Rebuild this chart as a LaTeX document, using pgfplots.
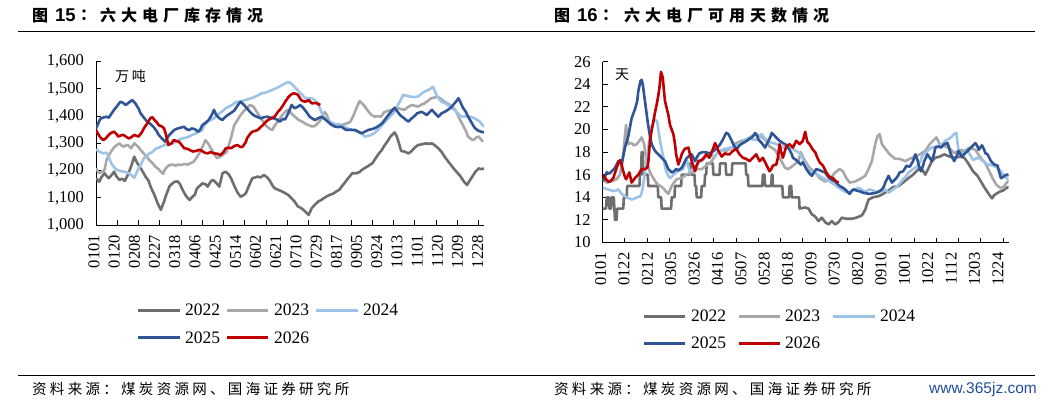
\documentclass[border=0pt]{standalone}
\usepackage{fontspec}
\setmainfont{Liberation Serif}
\newfontfamily\cjk{Noto Sans CJK SC}
\newfontfamily\sansf{Liberation Sans}
\usepackage{pgfplots}
\pgfplotsset{compat=1.18}
\definecolor{c22}{RGB}{110,110,110}
\definecolor{c23}{RGB}{168,168,168}
\definecolor{c24}{RGB}{157,195,230}
\definecolor{c25}{RGB}{47,85,151}
\definecolor{c26}{RGB}{192,0,0}
\definecolor{wm}{RGB}{31,78,156}
\makeatletter
\def\LS#1#2{\def\LS@sp{\hspace{#1}}\LS@a#2\@nil}
\def\LS@a#1{\ifx\@nil#1\else#1\LS@sp\expandafter\LS@a\fi}
\makeatother
\pgfplotsset{chart/.style={
  scale only axis, axis x line*=bottom, axis y line*=left,
  axis line style={black, line width=1bp},
  tick align=inside, major tick length=5bp,
  tick style={black, line width=1bp},
  ticklabel style={font=\fontsize{16.5bp}{18bp}\selectfont},
  /pgf/number format/assume math mode=true,
  /pgf/number format/1000 sep={,},
  yticklabel style={xshift=-8.5bp},
  xticklabels={},
  extra x tick style={major tick length=0pt,
     xticklabel style={xshift=-2bp, yshift=-6.5bp, rotate=90, anchor=east}},
  no markers,
  every axis plot/.append style={line width=2.6bp, line join=round},
  xmin=0, xmax=365,
}}
\begin{document}
\begin{tikzpicture}
\useasboundingbox (0,0) rectangle (1054bp,-409bp);
% rules
\draw[line width=1bp] (18bp,-31.7bp) -- (1035bp,-31.7bp);
\draw[line width=1bp] (18bp,-375.5bp) -- (1035bp,-375.5bp);
% titles
\node[anchor=west, inner sep=0] at (32bp,-15.5bp) {\cjk\bfseries\fontsize{16bp}{16bp}\selectfont 图};
\node[anchor=west, inner sep=0] at (55bp,-15.5bp) {\sansf\bfseries\fontsize{18.5bp}{18.5bp}\selectfont 15};
\node[anchor=west, inner sep=0] at (80bp,-15.5bp) {\cjk\bfseries\fontsize{16bp}{16bp}\selectfont ：};
\node[anchor=west, inner sep=0] at (100bp,-15.5bp) {\cjk\bfseries\fontsize{16bp}{16bp}\selectfont\LS{5bp}{六大电厂库存情况}};
\node[anchor=west, inner sep=0] at (554bp,-15.5bp) {\cjk\bfseries\fontsize{16bp}{16bp}\selectfont 图};
\node[anchor=west, inner sep=0] at (577bp,-15.5bp) {\sansf\bfseries\fontsize{18.5bp}{18.5bp}\selectfont 16};
\node[anchor=west, inner sep=0] at (602bp,-15.5bp) {\cjk\bfseries\fontsize{16bp}{16bp}\selectfont ：};
\node[anchor=west, inner sep=0] at (624bp,-15.5bp) {\cjk\bfseries\fontsize{16bp}{16bp}\selectfont\LS{5bp}{六大电厂可用天数情况}};
% sources
\node[anchor=west, inner sep=0] at (32bp,-389bp) {\cjk\fontsize{14.5bp}{14.5bp}\selectfont\LS{3.3bp}{资料来源：煤炭资源网、国海证券研究所}};
\node[anchor=west, inner sep=0] at (554bp,-389bp) {\cjk\fontsize{14.5bp}{14.5bp}\selectfont\LS{3.3bp}{资料来源：煤炭资源网、国海证券研究所}};
\node[anchor=west, inner sep=0, text=wm] at (929bp,-389bp) {\sansf\fontsize{15.5bp}{16bp}\selectfont www.365jz.com};

% ---------------- left chart ----------------
\begin{axis}[chart, at={(96bp,-225bp)}, anchor=south west,
  width=388bp, height=163.3bp,
  ymin=1000, ymax=1600, ytick={1000,1100,...,1600},
  xtick={0,20,...,360},
  extra x ticks={0,19,38,57,76,95,114,133,152,171,190,209,228,247,266,285,304,323,342,361},
  extra x tick labels={0101,0120,0208,0227,0318,0406,0425,0514,0602,0621,0710,0729,0817,0905,0924,1013,1101,1120,1209,1228},
]
\addplot[c22] coordinates {(0,1172)(3,1159)(5,1175)(8,1190)(10,1180)(12,1172)(15,1185)(17,1196)(19,1180)(22,1166)(25,1170)(27,1162)(30,1184)(33,1215)(36,1251)(38,1233)(41,1215)(44,1196)(47,1175)(49,1166)(52,1135)(55,1110)(58,1080)(61,1056)(64,1086)(66,1110)(69,1141)(71,1150)(74,1159)(77,1160)(79,1150)(82,1125)(85,1105)(88,1092)(91,1105)(93,1111)(95,1135)(98,1145)(100,1153)(103,1150)(105,1141)(108,1160)(110,1166)(113,1155)(116,1141)(119,1190)(122,1196)(125,1185)(127,1172)(130,1145)(133,1120)(136,1104)(139,1110)(141,1117)(144,1145)(147,1172)(150,1175)(152,1178)(155,1175)(158,1184)(161,1175)(163,1166)(166,1145)(168,1135)(171,1130)(174,1125)(178,1117)(181,1110)(184,1098)(187,1085)(190,1068)(193,1062)(195,1056)(198,1045)(200,1037)(203,1062)(206,1075)(209,1086)(212,1092)(214,1098)(217,1105)(220,1111)(223,1115)(226,1123)(229,1130)(231,1141)(234,1155)(236,1166)(239,1180)(241,1190)(245,1190)(248,1195)(250,1202)(253,1210)(255,1214)(258,1222)(260,1227)(263,1245)(266,1262)(269,1276)(271,1290)(274,1306)(277,1325)(279,1333)(281,1340)(283,1325)(285,1300)(287,1272)(290,1270)(294,1263)(297,1272)(300,1285)(303,1294)(306,1296)(310,1300)(313,1298)(316,1300)(319,1292)(322,1282)(325,1269)(328,1251)(331,1235)(334,1220)(337,1205)(340,1192)(343,1178)(346,1160)(349,1147)(351,1160)(354,1178)(357,1196)(360,1208)(363,1205)(365,1208)};
\addplot[c23] coordinates {(0,1208)(3,1190)(5,1195)(8,1202)(10,1240)(12,1255)(14,1269)(17,1285)(19,1292)(22,1300)(24,1292)(26,1288)(28,1292)(30,1294)(33,1282)(36,1300)(39,1290)(42,1276)(45,1262)(48,1250)(50,1239)(53,1228)(56,1214)(59,1205)(61,1196)(63,1188)(65,1205)(67,1214)(69,1220)(72,1222)(75,1218)(77,1222)(80,1220)(83,1224)(86,1222)(89,1227)(92,1233)(95,1250)(98,1269)(101,1295)(103,1312)(106,1296)(108,1282)(111,1262)(114,1245)(117,1252)(120,1260)(123,1269)(125,1295)(127,1320)(130,1367)(133,1385)(136,1404)(139,1418)(142,1430)(145,1441)(148,1435)(150,1423)(153,1405)(155,1392)(158,1375)(161,1361)(164,1352)(166,1349)(168,1365)(171,1380)(174,1398)(177,1412)(180,1422)(182,1418)(185,1405)(188,1395)(191,1385)(194,1380)(197,1372)(200,1367)(203,1362)(206,1364)(209,1375)(212,1390)(215,1415)(217,1405)(219,1385)(221,1368)(224,1367)(227,1370)(231,1367)(235,1372)(239,1378)(242,1400)(245,1430)(248,1455)(250,1448)(253,1435)(256,1418)(259,1405)(262,1398)(265,1400)(268,1398)(271,1414)(275,1420)(278,1423)(281,1426)(284,1429)(287,1426)(290,1423)(293,1432)(297,1441)(300,1438)(303,1435)(306,1442)(309,1447)(312,1455)(315,1465)(318,1468)(321,1472)(324,1465)(327,1455)(330,1448)(333,1441)(336,1430)(338,1423)(341,1398)(344,1375)(346,1361)(348,1345)(350,1325)(353,1315)(355,1312)(358,1322)(360,1325)(362,1315)(364,1306)};
\addplot[c24] coordinates {(0,1278)(2,1272)(4,1268)(7,1263)(10,1266)(13,1240)(15,1222)(18,1208)(20,1202)(23,1198)(26,1196)(29,1193)(31,1190)(34,1180)(36,1174)(38,1190)(40,1208)(43,1228)(45,1245)(48,1255)(50,1263)(53,1268)(56,1280)(59,1284)(62,1290)(65,1294)(68,1300)(71,1298)(74,1304)(77,1310)(81,1318)(84,1320)(87,1324)(90,1330)(94,1337)(97,1343)(100,1349)(102,1368)(105,1380)(108,1386)(111,1392)(113,1400)(116,1410)(119,1418)(122,1429)(125,1435)(128,1441)(131,1450)(134,1453)(137,1455)(140,1459)(143,1462)(146,1466)(149,1470)(152,1476)(156,1484)(159,1486)(162,1490)(165,1495)(168,1500)(171,1505)(174,1512)(177,1518)(180,1525)(182,1524)(185,1515)(188,1502)(191,1490)(194,1478)(197,1466)(200,1464)(203,1466)(206,1458)(208,1450)(210,1435)(212,1415)(214,1398)(217,1388)(220,1380)(224,1372)(228,1367)(231,1365)(234,1361)(237,1355)(240,1349)(243,1348)(247,1343)(250,1335)(253,1325)(256,1328)(259,1331)(262,1338)(265,1349)(268,1362)(272,1380)(275,1392)(278,1405)(280,1412)(282,1425)(284,1441)(287,1462)(289,1478)(292,1475)(295,1472)(299,1470)(303,1472)(306,1482)(309,1490)(312,1495)(315,1502)(317,1508)(319,1490)(321,1472)(323,1462)(325,1453)(328,1448)(331,1441)(334,1432)(337,1423)(340,1412)(343,1400)(346,1398)(349,1400)(352,1398)(355,1394)(358,1388)(361,1380)(363,1370)(365,1361)};
\addplot[c25] coordinates {(0,1355)(2,1372)(4,1390)(7,1395)(10,1398)(12,1394)(15,1412)(17,1423)(20,1438)(23,1453)(25,1450)(28,1441)(31,1450)(34,1459)(37,1447)(40,1428)(42,1410)(45,1395)(48,1380)(51,1372)(54,1361)(57,1345)(59,1331)(62,1318)(65,1306)(67,1320)(69,1331)(72,1343)(74,1350)(77,1355)(80,1358)(83,1361)(85,1352)(88,1349)(90,1355)(93,1352)(96,1343)(98,1350)(100,1367)(103,1375)(106,1386)(109,1405)(111,1423)(113,1405)(116,1392)(119,1386)(121,1395)(124,1404)(127,1412)(130,1420)(133,1438)(136,1453)(139,1442)(142,1429)(145,1415)(148,1404)(151,1398)(155,1392)(158,1396)(161,1398)(164,1395)(167,1392)(170,1388)(173,1380)(176,1390)(178,1388)(181,1412)(184,1441)(187,1429)(190,1435)(192,1441)(195,1430)(198,1415)(201,1398)(204,1390)(206,1386)(209,1392)(212,1398)(215,1390)(218,1380)(221,1370)(225,1361)(228,1360)(231,1361)(234,1352)(236,1349)(240,1350)(244,1349)(247,1342)(250,1337)(253,1343)(256,1349)(259,1352)(262,1355)(265,1362)(269,1373)(272,1388)(275,1404)(278,1418)(281,1431)(283,1420)(286,1404)(289,1395)(292,1385)(294,1380)(297,1392)(300,1402)(302,1410)(306,1416)(309,1410)(311,1404)(314,1415)(316,1423)(319,1410)(322,1398)(325,1410)(328,1416)(331,1423)(334,1432)(336,1441)(339,1455)(341,1466)(343,1450)(345,1432)(348,1415)(350,1398)(353,1378)(356,1358)(359,1348)(362,1343)(365,1340)};
\addplot[c26] coordinates {(0,1349)(2,1335)(4,1322)(7,1312)(9,1318)(12,1331)(14,1338)(17,1343)(19,1335)(21,1325)(24,1330)(26,1331)(28,1325)(31,1318)(33,1322)(36,1331)(38,1328)(40,1325)(43,1340)(45,1355)(48,1372)(51,1392)(53,1396)(55,1386)(57,1378)(59,1367)(62,1362)(64,1355)(66,1330)(68,1294)(71,1300)(73,1312)(76,1308)(78,1306)(81,1292)(83,1282)(86,1280)(88,1276)(91,1270)(94,1272)(97,1276)(99,1274)(102,1266)(105,1263)(108,1268)(111,1263)(114,1262)(117,1257)(120,1268)(122,1282)(125,1284)(127,1282)(130,1290)(133,1294)(136,1286)(138,1288)(141,1305)(142,1318)(145,1335)(147,1343)(150,1346)(152,1349)(155,1360)(157,1367)(160,1380)(162,1386)(165,1392)(168,1398)(171,1415)(173,1423)(176,1440)(178,1453)(181,1470)(183,1478)(186,1484)(188,1482)(190,1478)(193,1459)(195,1455)(197,1453)(200,1459)(203,1447)(206,1448)(208,1447)(211,1441)};
\end{axis}
\node[anchor=west, inner sep=0] at (115bp,-76.5bp) {\cjk\fontsize{14bp}{14bp}\selectfont\LS{2.7bp}{万吨}};

% ---------------- right chart ----------------
\begin{axis}[chart, at={(602.7bp,-242.5bp)}, anchor=south west,
  width=406bp, height=180.8bp,
  ymin=10, ymax=26, ytick={10,12,...,26},
  xtick={0,20,...,360},
  extra x ticks={0,21,42,63,84,105,126,147,168,189,210,231,252,273,294,315,336,357},
  extra x tick labels={0101,0122,0212,0305,0326,0416,0507,0528,0618,0709,0730,0820,0910,1001,1022,1112,1203,1224},
]
\addplot[c22] coordinates {(0,13)(3,13)(3.6,14)(5.5,14)(6,13)(7.5,13)(8,14)(10,14)(11,12)(12.5,12)(13,13)(18.5,13)(19,14)(21.5,14)(22,15)(33,15)(33.5,16)(34.5,16)(35,18)(36,18)(36.5,16)(40.5,16)(41,15)(49.5,15)(50,14)(52.5,14)(53,13)(61.5,13)(62,14)(64.5,14)(65,15)(70.5,15)(71,16)(78,16)(78.5,17)(79.5,17)(80,16)(82.5,16)(83,15)(84,15)(84.5,14)(88.5,14)(89,15)(91.5,15)(92,16)(93,16)(93.5,17)(99,17)(99.5,16)(105,16)(105.5,17)(110.5,17)(111,16)(116,16)(116.5,17)(128.5,17)(129,16)(130.5,16)(131,15)(143.5,15)(144,16)(145.5,16)(146,15)(151.5,15)(152,16)(152.7,16)(153,15)(161.5,15)(162,14)(167.5,14)(168,15)(169.5,15)(170,14)(176.5,14)(177,13)(182,13.1)(185,13)(188,12.5)(191,12.3)(194,11.9)(197,12.2)(200,11.8)(203,11.6)(206,11.9)(209,11.6)(212,11.8)(215,12.2)(219,12.1)(224,12.1)(228,12.2)(233,12.4)(236,12.9)(239,13.8)(243,14)(248,14.1)(252,14.3)(257,14.6)(261,14.9)(266,15)(270,15.3)(275,15.7)(279,16)(284,16.5)(287,16.5)(290,16)(293,16.6)(296,17.2)(299,17.5)(303,17.6)(307,17.8)(312,17.6)(316,17.5)(321,17.6)(325,17.5)(328,17.1)(333,16.3)(337,15.9)(340,15.4)(343,14.9)(347,14.3)(350,13.9)(352,14.2)(357,14.5)(360,14.6)(364,14.9)(365,14.8)};
\addplot[c23] coordinates {(0,15.6)(2,15.4)(4,15.3)(7,15.4)(10,15.5)(12.5,15.6)(15.5,16)(17,16.8)(18.5,17.8)(20,19.5)(21,20.4)(22,19.5)(23,18.7)(25,18.8)(26,18.8)(28,18.6)(30.5,18.7)(33,19)(35,19.3)(37,18.8)(39.5,17.2)(42.5,16.2)(45.5,15.7)(48,15.3)(50,15.1)(52,15)(54.5,14.8)(57,14.5)(59,14.3)(62,15)(64,15.3)(66.5,15.6)(71,15.7)(75,16)(80,16.2)(84,16.5)(89,16.5)(93,16.8)(98,17.2)(102,17.8)(107,18.2)(111,18.1)(116,18.4)(120,18.8)(125,19)(129,19.1)(134,19.4)(138,19.6)(143,19.3)(146,19.1)(150,18.5)(155,18.2)(159,17.5)(164,16.6)(167,16.5)(171,16.8)(176,17.2)(178,18)(182,17.2)(186,16.6)(191,16.2)(195,15.7)(200,15.4)(204,15.6)(209,16.2)(213,16.5)(216,16.3)(219,15.7)(222,15.3)(227,15.4)(231,15.6)(236,15.9)(239,16.5)(242,17.2)(245,18.7)(247,19.4)(249,19.6)(251,18.7)(254,18.3)(258,17.8)(263,17.4)(267,17.4)(272,17.2)(276,17.4)(281,17.6)(285,17.8)(290,18.1)(294,18.7)(298,19.1)(300,19.3)(303,18.7)(308,18.5)(312,18.3)(316,17.9)(321,18.2)(325,18.1)(330,18.4)(335,18.2)(339,17.6)(344,17)(348,16.2)(351,15.6)(354,15.1)(358,14.8)(361,15)(364,15.4)(365,15.3)};
\addplot[c24] coordinates {(0,14.85)(3,14.75)(5,14.7)(8,14.6)(10,14.55)(12,14.6)(14,14.7)(17,14.3)(20,14.1)(22,14)(24,13.9)(26,13.8)(29,13.9)(31,14)(34,14.1)(35.5,14.6)(36.5,15.2)(38,16.3)(39.5,17.3)(41,18.4)(42.5,19.4)(44,20.3)(45.5,20.6)(47,20.9)(49,20.7)(50,20)(51.5,19)(53,18.3)(54,17.8)(55.5,17)(57,16.3)(59,15.9)(60.5,15.7)(62,15.8)(63.5,16)(66,16.2)(68,16.3)(70,16.4)(72,16.5)(74,16.9)(76,17.2)(78,16.3)(80,16.4)(83,16.6)(85,16.9)(87,17.1)(90,17.3)(92,17.5)(94,17.7)(96,17.8)(99,17.7)(101,17.6)(103,17.9)(105,18.1)(108,18.2)(110,18.3)(112,18.3)(114,18.4)(117,18.4)(119,18.5)(121,18.6)(123,18.6)(126,18.9)(128,19.1)(130,19.2)(132,19.3)(135,19.1)(138,19.1)(141,19.4)(143,19.6)(145,19.3)(147,19.1)(150,18.9)(152,18.8)(154,18.8)(156,18.7)(159,18.6)(161,18.5)(163,18.4)(165,18.4)(168,18.4)(170,18.4)(172,18.2)(174,18.1)(177,17.9)(179,17.6)(182,16.9)(184,16.6)(186,16.3)(189,16.2)(191,16.2)(193,16)(195,15.9)(198,15.7)(200,15.6)(202,15.5)(204,15.4)(207,15.2)(209,15.1)(211,14.95)(213,14.8)(216,14.6)(218,14.5)(220,14.45)(222,14.4)(225,14.6)(227,14.7)(229,14.8)(231,14.8)(234,14.6)(236,14.5)(238,14.6)(240,14.7)(243,14.6)(245,14.5)(247,14.5)(249,14.5)(252,14.6)(254,14.7)(257,14.4)(259,14.55)(261,14.7)(264,14.9)(266,15.1)(268,15.35)(270,15.6)(273,15.9)(275,16.2)(277,16.35)(279,16.5)(282,16.7)(284,16.9)(286,17.3)(287,17.6)(289,17.8)(290,17.9)(293,18.2)(296,18.4)(298,18.45)(300,18.5)(303,18.6)(305,18.7)(307,18.9)(308,19)(310,19.1)(313,19.3)(315,19.5)(316,19.6)(318,19.7)(319,18.8)(320,18.1)(322,18)(324,17.9)(326,18)(328,18.2)(330,17.8)(333,17.3)(335,17.4)(337,17.5)(340,17.35)(342,17.2)(344,17.05)(346,16.9)(349,16.85)(351,16.8)(353,16.7)(355,16.6)(358,16.3)(360,16)(362,15.8)(364,15.6)(365,15.5)};
\addplot[c25] coordinates {(0,15.44)(2,15.8)(3.6,16.2)(6,16.1)(8,16.3)(11,16.6)(14,17.2)(17,16.9)(20,18.4)(23,19.4)(26,21)(29,21.8)(31,22.5)(32,23.4)(34,24.3)(35,24.4)(36,24)(38,22.5)(40,21)(41,20.3)(42.5,19.4)(44,18.7)(47,18.1)(50,17.8)(53,17.5)(56,17.2)(59,16.5)(62,16.2)(64,16.3)(66,16.5)(68,16.4)(71,16.6)(73,17)(75,17.4)(78,17.7)(80,17.8)(83,17.2)(85,17.6)(87,17.9)(90,18)(92,18)(94,17.95)(96,17.9)(98,18)(101,18.2)(103,18.4)(105,18.6)(108,19.1)(110,19.5)(111,19.7)(113,19.6)(114,19.4)(116,19)(117,18.8)(120,18.2)(123,18.6)(126,18.8)(128,18.9)(131,19.1)(134,19.3)(136,19.5)(137,19.7)(139,19.4)(140,19.1)(143,18.8)(146,18.4)(149,19)(151,19.4)(152,19.7)(154,19.5)(155,19.4)(157,19.2)(159,19)(162,18.8)(164,18.7)(166,18.5)(168,18.2)(170,17.8)(171,17.5)(174,17.3)(176,17.1)(178,16.9)(180,17.1)(183,16.5)(186,16.1)(188,15.9)(190,16.2)(192,16.5)(195,16.4)(197,16.3)(200,16.2)(202,15.9)(204,15.7)(207,15.5)(209,15.4)(211,15.2)(213,15)(216,14.85)(218,14.7)(220,14.5)(222,14.3)(224,14.6)(226,14.7)(228,14.6)(230,14.55)(232,14.5)(234,14.4)(237,14.35)(240,14.3)(243,14.35)(246,14.4)(249,14.55)(251,14.7)(253,15)(254,15.3)(256,15.7)(257,15.9)(259,15.5)(260,15.3)(262,15.5)(264,15.7)(266,16)(267,16.2)(270,16.3)(272,16.6)(273,16.8)(276,16.7)(279,17.2)(281,17.8)(283,17.3)(284,16.9)(286,16.3)(288,16.8)(289,17.2)(291,17.6)(292,17.8)(294,17.5)(296,17.2)(298,17.9)(299,18.4)(302,18.5)(304,18.4)(307,18.7)(310,18.8)(311,18.5)(313,17.8)(316,17.2)(318,17.6)(320,18.1)(323,17.6)(326,17.9)(329,18.2)(332,18.5)(335,18.8)(337,18.5)(338,18.2)(341,18.6)(343,18.2)(344,17.9)(346,17.8)(349,17.2)(352,16.9)(355,16.8)(356,16.4)(358,15.7)(360,15.8)(361,15.9)(363,16)(364,16)(365,15.9)};
\addplot[c26] coordinates {(0,16)(3,15.6)(5,15.4)(6.6,15.4)(9.5,15.7)(12.5,16.6)(14,17)(15.5,17.3)(17,16.9)(18.5,16.3)(20,15.8)(21,15.6)(22.5,15.9)(24,16.2)(26,15.3)(27.5,15.5)(29,15.7)(32,16)(35,16.5)(38,16.5)(40,16.6)(41,17.1)(42.5,19)(44,19.9)(45.5,20.7)(47,21.5)(48.5,22.2)(50,23)(51,23.7)(52.4,25.1)(54,24.6)(55,23.5)(56,22.5)(57.5,21.9)(59,21.3)(60.5,20.4)(62,20)(63.5,19.6)(65,18.7)(66,17.8)(68,16.9)(69.5,17.3)(71,17.8)(72.5,18.1)(74,18.3)(77,18.4)(78.5,17.8)(80,17.2)(81.5,16.8)(83,16.3)(84.5,16.8)(86,17.2)(89,17.3)(91,17.5)(93,17.8)(96,17.5)(98.5,18.1)(101,18.8)(102.5,18.5)(104,18.1)(107,17.6)(110,17.9)(112,17.8)(114,17.8)(117,18.1)(120,18.3)(123,17.8)(126,17.5)(129,17.4)(132,17.2)(135,17.5)(138,17.8)(141,17.2)(144,17.5)(147,16.9)(150,16.3)(151.5,16.5)(153,16.8)(156,16.9)(157.5,17.5)(159,18.7)(160.5,18)(162,17.5)(163.5,18)(165,18.5)(168,18.7)(171,18.4)(172.5,18.7)(174,19)(177,18.7)(180,19)(182,19.8)(184,18.9)(186,18.7)(189,18.2)(191,18)(193,17.5)(195,17.1)(198,16.8)(201,16.2)(204,15.8)(207,15.7)(210,15.4)(212,15.3)};
\end{axis}
\node[anchor=west, inner sep=0] at (615bp,-75bp) {\cjk\fontsize{14bp}{14bp}\selectfont 天};

% ---------------- legends ----------------
\begin{scope}[every node/.style={anchor=west, inner sep=0, font=\fontsize{17.5bp}{18bp}\selectfont}]
\draw[c22, line width=3bp] (138bp,-310bp) -- (180bp,-310bp); \node at (185bp,-310bp) {2022};
\draw[c23, line width=3bp] (227bp,-310bp) -- (268bp,-310bp); \node at (274bp,-310bp) {2023};
\draw[c24, line width=3bp] (316bp,-310bp) -- (358bp,-310bp); \node at (363bp,-310bp) {2024};
\draw[c25, line width=3bp] (138bp,-337.7bp) -- (180bp,-337.7bp); \node at (185bp,-337.7bp) {2025};
\draw[c26, line width=3bp] (227bp,-337.7bp) -- (268bp,-337.7bp); \node at (274bp,-337.7bp) {2026};
\draw[c22, line width=3bp] (644bp,-316bp) -- (685bp,-316bp); \node at (691bp,-316bp) {2022};
\draw[c23, line width=3bp] (739bp,-316bp) -- (780bp,-316bp); \node at (785bp,-316bp) {2023};
\draw[c24, line width=3bp] (833bp,-316bp) -- (875bp,-316bp); \node at (880bp,-316bp) {2024};
\draw[c25, line width=3bp] (644bp,-343bp) -- (685bp,-343bp); \node at (691bp,-343bp) {2025};
\draw[c26, line width=3bp] (739bp,-343bp) -- (780bp,-343bp); \node at (785bp,-343bp) {2026};
\end{scope}
\end{tikzpicture}
\end{document}
